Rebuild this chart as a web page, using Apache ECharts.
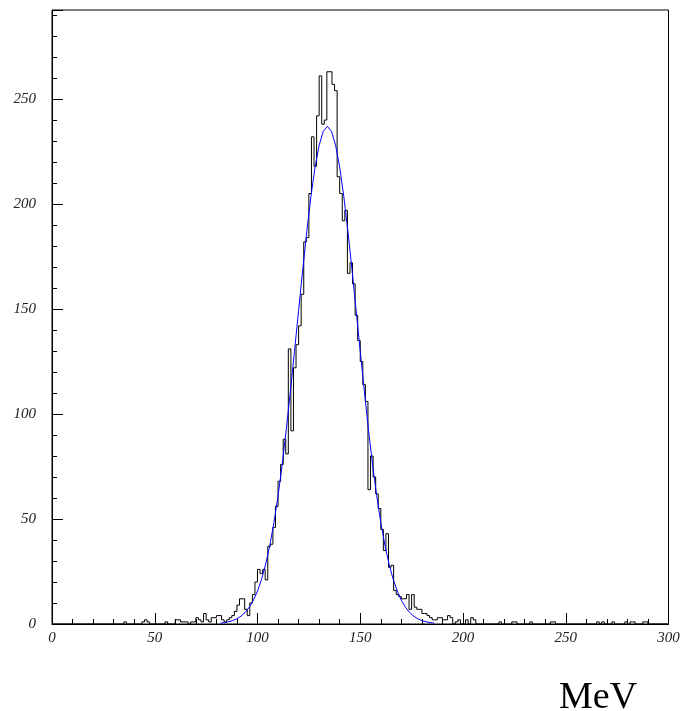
<!DOCTYPE html>
<html>
<head>
<meta charset="utf-8">
<script src="https://cdn.jsdelivr.net/npm/echarts@6/dist/echarts.min.js"></script>
<style>
html,body{margin:0;padding:0;background:#fff;}
#chart{width:684px;height:711px;}
</style>
</head>
<body>
<div id="chart"></div>
<script>
// Histogram range (MeV) and bin contents (240 bins of 1.25 MeV)
const xRange = [0, 300];
const yMax = 292.4;
const counts = [
  0,0,0,0,0,0,0,0,0,0,
  0,0,0,0,0,0,0,0,0,0,
  0,0,0,0,0,0,0,0,1,0,
  0,0,0,0,0,1,2,1,0,0,
  0,0,0,0,1,0,0,0,2,2,
  1,1,1,0,1,1,3,2,1,5,
  2,1,3,3,4,4,2,1,2,3,
  4,6,9,12,12,7,4,10,14,20,
  26,24,26,21,37,38,46,56,68,76,
  88,81,131,92,122,133,142,157,182,184,
  205,232,218,242,261,238,240,263,263,257,
  254,213,205,192,197,167,172,162,147,135,
  125,114,106,64,80,70,62,55,45,35,
  43,27,28,16,14,13,12,12,14,7,
  14,8,7,7,5,5,4,3,2,2,
  3,3,2,2,4,3,0,1,2,0,
  0,2,0,3,2,0,0,0,0,0,
  0,0,0,0,1,0,0,0,0,1,
  1,0,0,0,0,0,1,0,0,0,
  0,0,0,0,1,1,0,0,0,0,
  0,0,0,0,0,0,0,0,0,0,
  0,0,1,0,1,0,0,0,1,0,
  0,0,0,1,0,1,1,0,0,0,
  1,1,0,0,0,0,0,0,0,0
];
// Fitted curve, sampled (MeV, counts)
const fitX = [82,84,86,88,90,92,94,96,98,100,102,104,106,108,110,112,114,116,118,120,
  122,124,126,128,130,132,134,136,138,140,142,144,146,148,150,152,154,156,158,160,
  162,164,166,168,170,172,174,176,178,180,182,184,186];
const fitY = [0.42,0.67,1.06,1.65,2.5,3.75,5.5,8.0,11.3,15.7,21.4,28.6,37.5,48.3,61.1,75.8,92.6,110.8,129.9,149.3,
  168.6,187.0,203.6,217.5,228.0,234.6,237,234.6,228.0,217.5,203.6,187.0,168.6,149.3,129.9,110.8,92.6,75.8,61.1,48.3,
  37.5,28.6,21.4,15.7,11.3,8.0,5.5,3.75,2.5,1.65,1.06,0.67,0.42];
const xTickLabels = [0,50,100,150,200,250,300];
const yTickLabels = [0,50,100,150,200,250];
const axisTitle = 'MeV';

const binWidth = (xRange[1] - xRange[0]) / counts.length;
const histData = counts.map((c, i) => [xRange[0] + i * binWidth, c]);
histData.push([xRange[1], counts[counts.length - 1]]);
const fitData = fitX.map((x, i) => [x, fitY[i]]);

const labelStyle = {
  fontFamily: 'Liberation Serif',
  fontStyle: 'italic',
  fontSize: 15,
  color: '#222'
};

const chart = echarts.init(document.getElementById('chart'), null, {renderer: 'canvas'});
chart.setOption({
  animation: false,
  backgroundColor: '#fff',
  grid: {
    left: 52, right: 15.5, top: 10, bottom: 87,
    show: true, borderColor: '#000', borderWidth: 1, backgroundColor: 'transparent'
  },
  xAxis: [
    {
      type: 'value', position: 'bottom', min: xRange[0], max: xRange[1], interval: 50,
      axisLine: {show: true, lineStyle: {color: '#000', width: 1}},
      axisTick: {show: true, inside: true, length: 11, lineStyle: {color: '#000'}},
      axisLabel: Object.assign({margin: 7,
        formatter: v => xTickLabels.includes(v) ? String(v) : ''}, labelStyle),
      splitLine: {show: false}
    },
    {
      type: 'value', position: 'bottom', min: xRange[0], max: xRange[1], interval: 10,
      axisLine: {show: false},
      axisTick: {show: true, inside: true, length: 5, lineStyle: {color: '#000'}},
      axisLabel: {show: false},
      splitLine: {show: false}
    }
  ],
  yAxis: [
    {
      type: 'value', position: 'left', min: 0, max: yMax, interval: 50,
      axisLine: {show: true, lineStyle: {color: '#000', width: 1}},
      axisTick: {show: true, inside: true, length: 11, lineStyle: {color: '#000'}},
      axisLabel: Object.assign({margin: 16,
        formatter: v => yTickLabels.includes(v) ? String(v) : ''}, labelStyle),
      splitLine: {show: false}
    },
    {
      type: 'value', position: 'left', min: 0, max: yMax, interval: 10,
      axisLine: {show: false},
      axisTick: {show: true, inside: true, length: 5, lineStyle: {color: '#000'}},
      axisLabel: {show: false},
      splitLine: {show: false}
    }
  ],
  series: [
    {
      name: 'histogram', type: 'line', xAxisIndex: 0, yAxisIndex: 0,
      data: histData, step: 'end', symbol: 'none',
      lineStyle: {color: '#000', width: 1}, z: 3
    },
    {
      name: 'fit', type: 'line', xAxisIndex: 0, yAxisIndex: 0,
      data: fitData, symbol: 'none', smooth: false,
      lineStyle: {color: '#0000ff', width: 1}, z: 4
    }
  ],
  graphic: [
    {
      type: 'text', left: 559, top: 679,
      style: {text: axisTitle, font: '38px "Liberation Serif"', fill: '#000'}
    }
  ]
});
</script>
</body>
</html>
